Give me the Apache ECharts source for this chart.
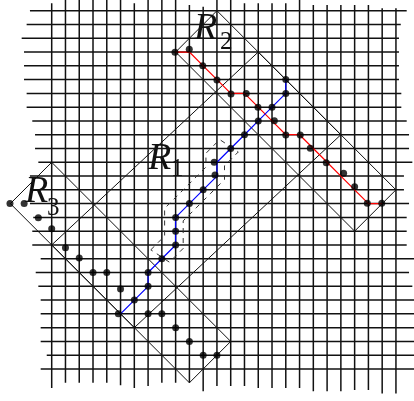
<!DOCTYPE html>
<html>
<head>
<meta charset="utf-8">
<script src="https://cdn.jsdelivr.net/npm/echarts@6/dist/echarts.min.js"></script>
<style>
  html, body { margin: 0; padding: 0; background: #fff; }
  #chart { width: 414px; height: 401px; }
</style>
</head>
<body>
<div id="chart"></div>
<script>
// Lattice: columns 0..25, rows 0..26 (rows counted downward).
// Ragged ends of each lattice line, in lattice units.
const colTop    = [-0.54,-0.78,-0.78,-0.78,-0.78,-0.78,-0.54,-0.78,-0.78,-0.78,-0.41,-0.29,-0.78,-0.78,-0.54,-0.54,-0.54,-0.54,-0.78,-0.41,-0.41,-0.41,-0.41,-0.41,-0.17,-0.17];
const colBottom = [27.38,27.0,27.0,27.0,27.0,27.18,27.38,27.23,27.0,27.0,27.0,27.62,27.23,27.23,27.23,27.38,27.38,27.38,27.38,27.62,27.62,27.62,27.52,27.52,27.78,27.78];
const rowLeft   = [-1.58,-1.82,-2.18,-2.01,-2.01,-2.01,-1.82,-1.82,-1.41,-1.21,-1.21,-0.97,-1.58,-1.36,-1.58,-1.34,-1.41,-1.41,-0.8,-1.16,-0.97,-0.8,-0.8,-0.8,-0.8,-0.36,-0.8];
const rowRight  = [25.78,25.35,25.22,25.22,25.22,25.22,25.39,25.39,25.78,25.95,25.95,26.19,25.58,25.58,25.95,25.78,25.78,25.78,26.4,25.95,26.19,26.4,26.4,26.4,26.4,26.4,26.4];

// Regions (corner lattice points)
const regionR1 = [[0,17],[15,3],[21,9],[6,23]];
const regionR2 = [[9,3],[12,0],[25,13],[22,16]];
const regionR3 = [[-3,14],[0,11],[13,24],[10,27]];

// Lattice paths
const redPath  = [[9,3],[10,3],[11,4],[12,5],[13,6],[14,6],[15,7],[16,8],[17,9],[18,9],[19,10],[20,11],[21,12],[22,13],[23,14],[24,14]];
const bluePath = [[5,22],[6,21],[7,20],[7,19],[8,18],[9,17],[9,16],[9,15],[10,14],[11,13],[12,12],[12,11],[13,10],[14,9],[15,8],[16,7],[17,6],[17,5]];

// Points
const redDots  = [[8.95,3.02],[9.99,2.8],[10.97,3.99],[12,5.03],[13.02,6.05],[14.13,6],[14.98,7.01],[16.17,7.98],[17,9.02],[18.05,9.02],[18.78,9.99],[19.94,11.03],[21.2,11.8],[22,12.77],[22.92,13.98],[23.97,13.98]];
const blueDots = [[4.84,22],[6,21],[7,20],[7,19],[8,18],[9,17],[9,16],[9,15],[10,14],[11,13],[11.86,11.92],[11.8,11],[13,10],[14,9],[15,8],[16,7],[17,6],[17,5]];
const leftDots = [[-3.03,14],[-2,14],[-0.97,15.02],[0,15.83],[1,17.2],[2,17.95],[3,19],[4,19],[5,20.2],[7,22],[8,22],[9,23],[10,24],[11,25],[12,25]];

// Dashed band around part of the blue path
const bandLeft  = [[7.2,17.35],[8.2,16.35],[8.2,14.35],[9.2,13.35],[10.2,12.35],[11.2,11.35],[11.2,10.35],[12.2,9.35]];
const bandRight = [[8.55,18.25],[9.55,17.25],[9.55,15.25],[10.55,14.25],[11.55,13.25],[12.55,12.25],[12.55,11.25],[13.55,10.25]];

const labels = [
  { name: 'R', sub: '1', x: 148, y: 159.5, sx: 171, sy: 169 },
  { name: 'R', sub: '2', x: 194, y: 29.5,  sx: 220, sy: 42 },
  { name: 'R', sub: '3', x: 25,  y: 192.5, sx: 47,  sy: 208 }
];

const gridSegs = [];
colTop.forEach((t, i) => gridSegs.push({ coords: [[i, t], [i, colBottom[i]]] }));
rowLeft.forEach((l, j) => gridSegs.push({ coords: [[l, j], [rowRight[j], j]] }));

const closed = pts => ({ coords: pts.concat([pts[0]]) });

const chart = echarts.init(document.getElementById('chart'), null, { renderer: 'canvas' });
const serif = '"Liberation Serif", "DejaVu Serif", serif';
const graphics = [];
labels.forEach(l => {
  graphics.push({ type: 'text', style: { x: l.x, y: l.y, text: l.name, font: 'italic 38px ' + serif, fill: '#111', verticalAlign: 'middle' }, z: 100 });
  graphics.push({ type: 'text', style: { x: l.sx, y: l.sy, text: l.sub, font: '25px ' + serif, fill: '#111', verticalAlign: 'middle' }, z: 100 });
});

chart.setOption({
  animation: false,
  backgroundColor: '#fff',
  grid: { left: 0, right: 0, top: 0, bottom: 0 },
  xAxis: { type: 'value', min: -3.7545, max: 26.311, show: false },
  yAxis: { type: 'value', min: -0.7765, max: 28.323, inverse: true, show: false },
  graphic: graphics,
  series: [
    { type: 'lines', coordinateSystem: 'cartesian2d', polyline: true, silent: true, z: 1,
      lineStyle: { color: '#111', width: 1.5, opacity: 1 }, data: gridSegs },
    { type: 'lines', coordinateSystem: 'cartesian2d', polyline: true, silent: true, z: 2,
      lineStyle: { color: '#111', width: 1, opacity: 1 },
      data: [closed(regionR1), closed(regionR2), closed(regionR3)] },
    { type: 'lines', coordinateSystem: 'cartesian2d', polyline: true, silent: true, z: 2,
      lineStyle: { color: '#333', width: 1, opacity: 1, type: [5, 5] },
      data: [closed(bandLeft.concat(bandRight.slice().reverse()))] },
    { type: 'line', data: redPath, symbol: 'none', z: 3,
      lineStyle: { color: '#ff0000', width: 1.2 } },
    { type: 'line', data: bluePath, symbol: 'none', z: 3,
      lineStyle: { color: '#0000ff', width: 1.2 } },
    { type: 'scatter', data: redDots.concat(blueDots, leftDots), symbolSize: 7, z: 4,
      itemStyle: { color: '#000' } }
  ]
});
</script>
</body>
</html>
